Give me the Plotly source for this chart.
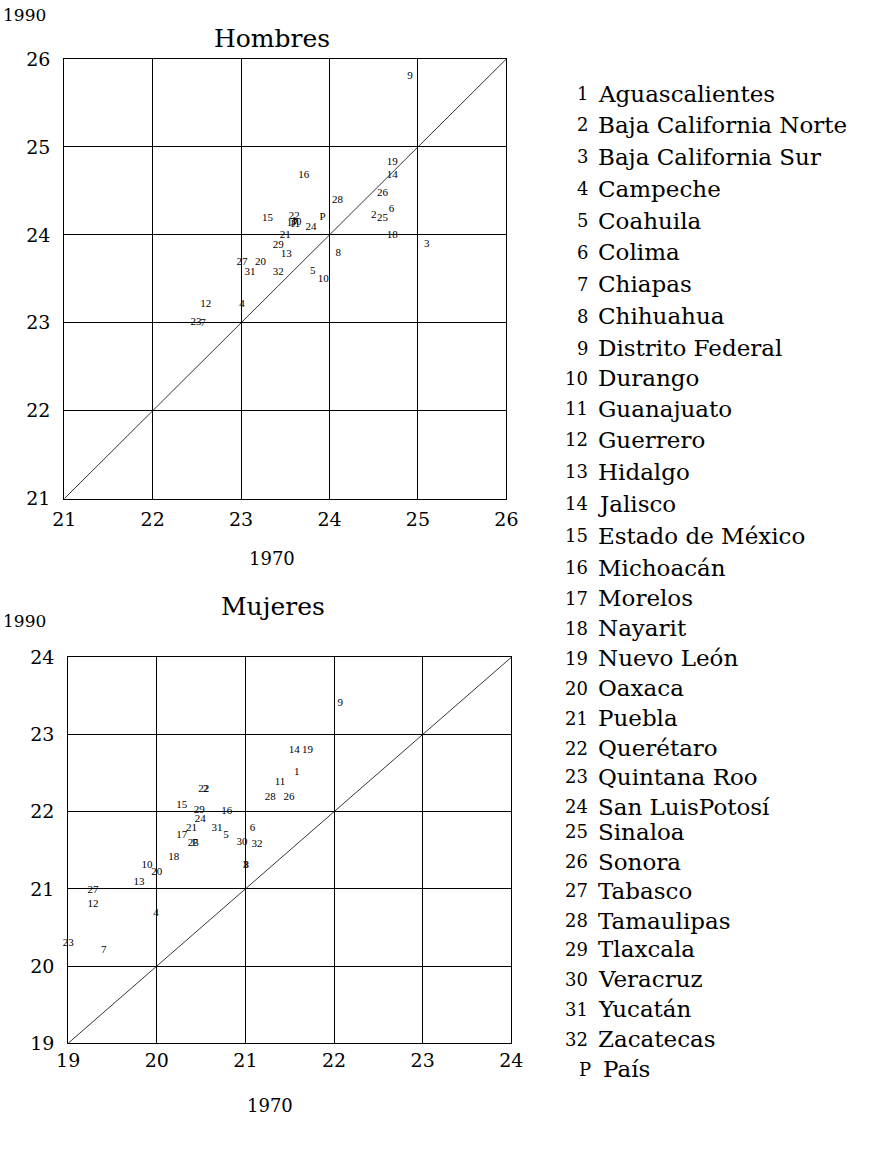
import plotly.graph_objects as go

W, H = 873, 1174
FONT = "Liberation Serif"
BIG = "DejaVu Serif"

labels = ['1','2','3','4','5','6','7','8','9','10','11','12','13','14','15','16',
          '17','18','19','20','21','22','23','24','25','26','27','28','29','30','31','32','P']

# Hombres: edad (1970, 1990)
h_1970 = [23.60, 24.50, 25.10, 23.01, 23.81, 24.70, 22.57, 24.10, 24.91, 23.93, 23.61,
          22.60, 23.51, 24.71, 23.30, 23.71, 23.58, 24.71, 24.71, 23.22, 23.50, 23.60,
          22.49, 23.79, 24.60, 24.60, 23.01, 24.09, 23.42, 23.62, 23.10, 23.42, 23.92]
h_1990 = [24.15, 24.22, 23.89, 23.21, 23.59, 24.29, 22.99, 23.79, 25.80, 23.50, 24.12,
          23.21, 23.78, 24.68, 24.19, 24.68, 24.13, 24.00, 24.82, 23.69, 24.00, 24.21,
          23.01, 24.09, 24.19, 24.47, 23.69, 24.39, 23.88, 24.14, 23.58, 23.58, 24.20]

# Mujeres: edad (1970, 1990)
m_1970 = [21.58, 20.55, 21.00, 19.99, 20.78, 21.08, 19.40, 21.01, 22.07, 19.89, 21.39,
          19.28, 19.80, 21.55, 20.28, 20.79, 20.28, 20.19, 21.70, 20.00, 20.39, 20.53,
          19.00, 20.49, 20.41, 21.49, 19.28, 21.28, 20.48, 20.96, 20.68, 21.13, 20.43]
m_1990 = [22.51, 22.29, 21.30, 20.69, 21.69, 21.78, 20.20, 21.31, 23.41, 21.30, 22.38,
          20.80, 21.09, 22.79, 22.08, 22.00, 21.69, 21.41, 22.80, 21.21, 21.78, 22.29,
          20.29, 21.90, 21.59, 22.19, 20.98, 22.19, 22.02, 21.61, 21.78, 21.58, 21.59]

states = ['Aguascalientes', 'Baja California Norte', 'Baja California Sur', 'Campeche',
          'Coahuila', 'Colima', 'Chiapas', 'Chihuahua', 'Distrito Federal', 'Durango',
          'Guanajuato', 'Guerrero', 'Hidalgo', 'Jalisco', 'Estado de México', 'Michoacán',
          'Morelos', 'Nayarit', 'Nuevo León', 'Oaxaca', 'Puebla', 'Querétaro',
          'Quintana Roo', 'San LuisPotosí', 'Sinaloa', 'Sonora', 'Tabasco', 'Tamaulipas',
          'Tlaxcala', 'Veracruz', 'Yucatán', 'Zacatecas', 'País']

h_range = [21, 26]
m_range = [19, 24]
h_ticks = [21, 22, 23, 24, 25, 26]
m_ticks = [19, 20, 21, 22, 23, 24]

fig = go.Figure()

# diagonal reference lines
fig.add_trace(go.Scatter(x=h_range, y=h_range, mode='lines', line=dict(color='black', width=0.8),
                         xaxis='x', yaxis='y', hoverinfo='skip', showlegend=False))
fig.add_trace(go.Scatter(x=m_range, y=m_range, mode='lines', line=dict(color='black', width=0.8),
                         xaxis='x2', yaxis='y2', hoverinfo='skip', showlegend=False))

fig.add_trace(go.Scatter(x=h_1970, y=h_1990, mode='text', text=labels, textposition='middle center',
                         textfont=dict(family=FONT, size=11, color='black'), cliponaxis=False,
                         xaxis='x', yaxis='y', showlegend=False))
fig.add_trace(go.Scatter(x=m_1970, y=m_1990, mode='text', text=labels, textposition='middle center',
                         textfont=dict(family=FONT, size=11, color='black'), cliponaxis=False,
                         xaxis='x2', yaxis='y2', showlegend=False))

# screen-pixel -> layout-pixel correction (page rendering offset/scale)
SX, CX = 0.981, 9.3
SY, CY = 0.984, 8.9

def px_x(p):
    return ((p - CX) / SX) / W

def px_y(p):
    return 1 - ((p - CY) / SY) / H

axis_common = dict(showgrid=True, gridcolor='black', gridwidth=1, zeroline=False,
                   showline=True, linecolor='black', linewidth=1, mirror=True,
                   ticks='', tickfont=dict(family=BIG, size=19, color='black'))

fig.update_layout(
    width=W, height=H, margin=dict(l=0, r=0, t=0, b=0),
    paper_bgcolor='white', plot_bgcolor='white',
    xaxis=dict(domain=[px_x(62), px_x(508)], range=h_range, tickvals=h_ticks, anchor='y',
               ticklabelstandoff=3, **axis_common),
    yaxis=dict(domain=[px_y(498), px_y(57)], range=h_range, tickvals=h_ticks, anchor='x',
               ticklabelstandoff=9, **axis_common),
    xaxis2=dict(domain=[px_x(66), px_x(513)], range=m_range, tickvals=m_ticks, anchor='y2',
                ticklabelstandoff=0, **axis_common),
    yaxis2=dict(domain=[px_y(1044), px_y(657)], range=m_range, tickvals=m_ticks, anchor='x2',
                ticklabelstandoff=9, **axis_common),
)

ann = []
def txt(x, y, s, size, xanchor='center', family=BIG):
    ann.append(dict(x=px_x(x), y=px_y(y), xref='paper', yref='paper', text=s, showarrow=False,
                    xanchor=xanchor, yanchor='middle', font=dict(family=family, size=size, color='black')))

txt(272, 36, 'Hombres', 25)
txt(273, 606, 'Mujeres', 25)
txt(22, 13, '1990', 17)
txt(22, 621, '1990', 17)
txt(272, 558, '1970', 18)
txt(270, 1106, '1970', 18)

# legend list
row_y = [92, 123, 155, 187, 219, 251, 283, 315, 347, 377, 408, 439, 471, 503, 535, 567,
         598, 628, 658, 688, 718, 748, 777, 807, 832, 862, 891, 921, 950, 980, 1010, 1040, 1070]
for i, (lab, name) in enumerate(zip(labels, states)):
    if lab == 'P':
        txt(579, row_y[i], lab, 18, 'left')
        txt(603, row_y[i], name, 23, 'left')
    else:
        txt(592, row_y[i], lab, 18, 'right')
        txt(598, row_y[i], name, 23, 'left')

fig.update_layout(annotations=ann)

fig.write_html("out.html", config={'displayModeBar': False}, post_script=(
    "document.body.style.margin='0';document.body.style.padding='0';"
    "document.documentElement.style.overflow='hidden';document.body.style.overflow='hidden';"))
